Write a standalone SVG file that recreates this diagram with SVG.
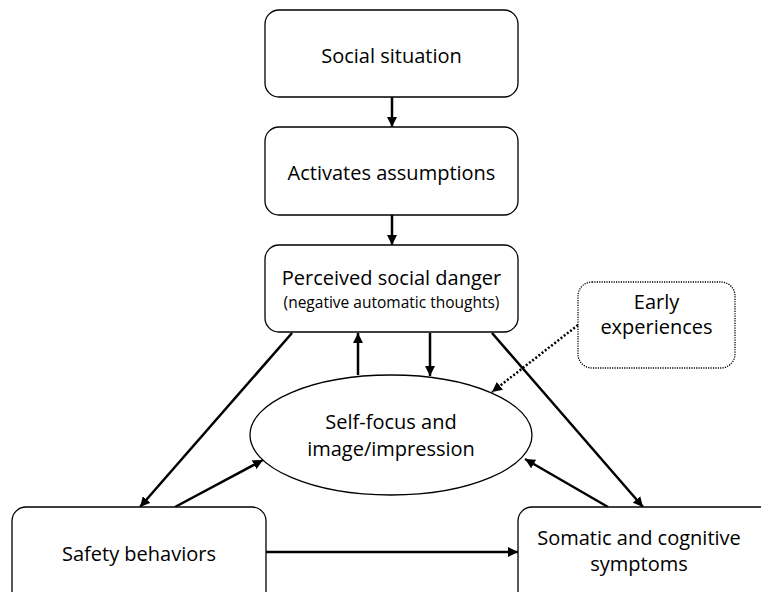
<svg xmlns="http://www.w3.org/2000/svg" width="761" height="592" viewBox="0 0 761 592">
<style>
.box{fill:#fff;stroke:#000;stroke-width:1.3}
.dot{fill:#fff;stroke:#000;stroke-width:1.3;stroke-dasharray:1.2 1.2}
.t{font-family:"Open Sans","Liberation Sans",sans-serif;font-size:20px;fill:#000;text-anchor:middle}
.s{font-size:15.5px}
.c{stroke:#000;stroke-width:2.5;fill:none}
.d{stroke:#000;stroke-width:2.5;fill:none;stroke-dasharray:2 2}
</style>
<defs>
<marker id="ah" viewBox="0 0 10 10" refX="10" refY="5" markerWidth="4" markerHeight="4" orient="auto" markerUnits="strokeWidth">
<path d="M0,0 L10,5 L0,10 z" fill="#000"/>
</marker>
</defs>
<g id="connectors">
<line class="c" x1="392" y1="97" x2="392" y2="127" marker-end="url(#ah)"/>
<line class="c" x1="392" y1="215" x2="392" y2="245" marker-end="url(#ah)"/>
<line class="c" x1="358" y1="375" x2="358" y2="333" marker-end="url(#ah)"/>
<line class="c" x1="430" y1="333" x2="430" y2="376" marker-end="url(#ah)"/>
<line class="c" x1="292" y1="333" x2="140" y2="507" marker-end="url(#ah)"/>
<line class="c" x1="175" y1="507" x2="263" y2="460" marker-end="url(#ah)"/>
<line class="c" x1="492" y1="333" x2="643" y2="507" marker-end="url(#ah)"/>
<line class="c" x1="608" y1="507" x2="525" y2="459" marker-end="url(#ah)"/>
<line class="c" x1="266" y1="552" x2="518" y2="552" marker-end="url(#ah)"/>
<line class="d" x1="578" y1="325" x2="492" y2="392" marker-end="url(#ah)"/>
</g>
<g id="social-situation">
<rect class="box" x="265" y="10" width="253" height="87" rx="14"/>
<text class="t" x="391.5" y="63">Social situation</text>
</g>
<g id="activates-assumptions">
<rect class="box" x="265" y="127" width="253" height="88" rx="14"/>
<text class="t" x="391.5" y="180">Activates assumptions</text>
</g>
<g id="perceived-social-danger">
<rect class="box" x="265" y="245" width="253" height="87" rx="14"/>
<text class="t" x="391.5" y="285">Perceived social danger</text>
<text class="t s" x="391.5" y="308">(negative automatic thoughts)</text>
</g>
<g id="early-experiences">
<rect class="dot" x="578" y="282" width="157" height="86" rx="14"/>
<text class="t" x="656.5" y="309">Early</text>
<text class="t" x="656.5" y="334">experiences</text>
</g>
<g id="self-focus">
<ellipse class="box" cx="391" cy="435" rx="141" ry="60"/>
<text class="t" x="391" y="429">Self-focus and</text>
<text class="t" x="391" y="456">image/impression</text>
</g>
<g id="safety-behaviors">
<rect class="box" x="12" y="507" width="254" height="100" rx="14"/>
<text class="t" x="139" y="561">Safety behaviors</text>
</g>
<g id="somatic-cognitive">
<rect class="box" x="518" y="507" width="260" height="100" rx="14"/>
<text class="t" x="639" y="545">Somatic and cognitive</text>
<text class="t" x="639" y="571">symptoms</text>
</g>
</svg>
